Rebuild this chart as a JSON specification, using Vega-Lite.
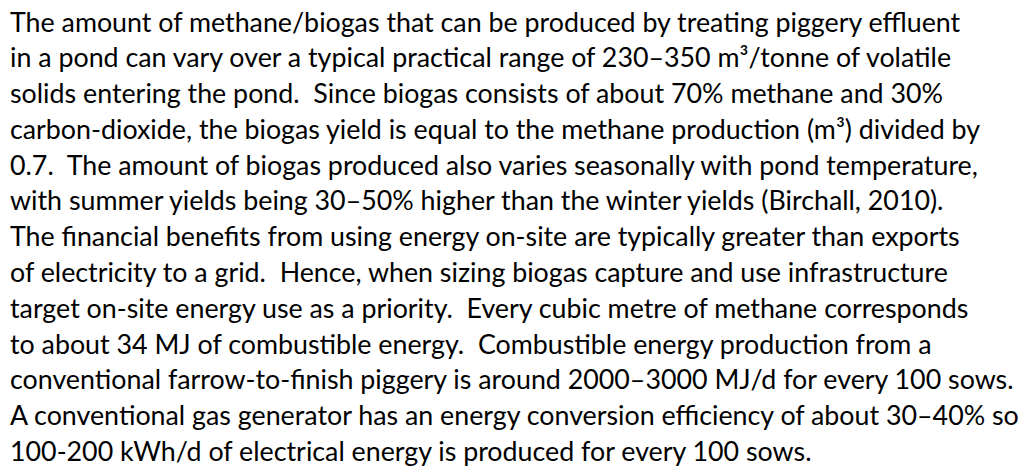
{
  "$schema": "https://vega.github.io/schema/vega-lite/v6.json",
  "width": 1033,
  "height": 471,
  "autosize": {"type": "fit", "contains": "padding"},
  "padding": 0,
  "background": "white",
  "config": {"view": {"stroke": null}},
  "data": {"values": [
    {"line": 1, "text": "The amount of methane/biogas that can be produced by treating piggery effluent"},
    {"line": 2, "text": "in a pond can vary over a typical practical range of 230–350 m³/tonne of volatile"},
    {"line": 3, "text": "solids entering the pond.\u00a0 Since biogas consists of about 70% methane and 30%"},
    {"line": 4, "text": "carbon-dioxide, the biogas yield is equal to the methane production (m³) divided by"},
    {"line": 5, "text": "0.7.\u00a0 The amount of biogas produced also varies seasonally with pond temperature,"},
    {"line": 6, "text": "with summer yields being 30–50% higher than the winter yields (Birchall, 2010)."},
    {"line": 7, "text": "The financial benefits from using energy on-site are typically greater than exports"},
    {"line": 8, "text": "of electricity to a grid.\u00a0 Hence, when sizing biogas capture and use infrastructure"},
    {"line": 9, "text": "target on-site energy use as a priority.\u00a0 Every cubic metre of methane corresponds"},
    {"line": 10, "text": "to about 34 MJ of combustible energy.\u00a0 Combustible energy production from a"},
    {"line": 11, "text": "conventional farrow-to-finish piggery is around 2000–3000 MJ/d for every 100 sows."},
    {"line": 12, "text": "A conventional gas generator has an energy conversion efficiency of about 30–40% so"},
    {"line": 13, "text": "100-200 kWh/d of electrical energy is produced for every 100 sows."}
  ]},
  "mark": {"type": "text", "align": "left", "baseline": "alphabetic", "font": "Lato", "fontSize": 26.8, "color": "#000000"},
  "encoding": {
    "x": {"datum": 0, "type": "quantitative", "scale": {"domain": [0, 1], "range": [10, 1033]}, "axis": null},
    "y": {"field": "line", "type": "quantitative", "scale": {"domain": [1, 13], "range": [31.5, 461]}, "axis": null},
    "text": {"field": "text"}
  }
}
